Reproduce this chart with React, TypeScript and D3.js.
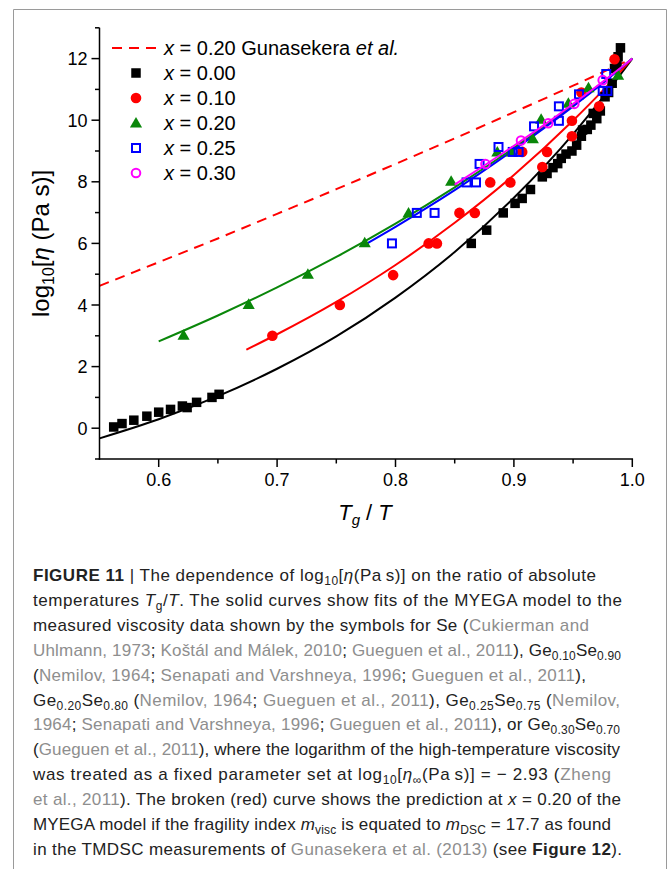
import React from 'react';
import * as d3 from 'd3';

// ---------- data ----------
const SE_X = [0.562, 0.569, 0.579, 0.590, 0.600, 0.610, 0.620, 0.624, 0.632, 0.645, 0.651, 0.864, 0.877, 0.891, 0.901, 0.907, 0.914, 0.924, 0.928, 0.933, 0.937, 0.940, 0.944, 0.949, 0.953, 0.957, 0.958, 0.962, 0.965, 0.967, 0.970, 0.973, 0.977, 0.980, 0.983, 0.985, 0.987, 0.988, 0.990];
const SE_Y = [0.04, 0.15, 0.26, 0.39, 0.52, 0.61, 0.72, 0.67, 0.84, 1.00, 1.10, 6.00, 6.43, 6.99, 7.30, 7.46, 7.75, 8.16, 8.27, 8.46, 8.59, 8.76, 8.90, 9.00, 9.19, 9.48, 9.68, 9.70, 9.84, 10.22, 10.05, 10.30, 10.76, 10.90, 11.20, 11.68, 11.84, 12.06, 12.35];

const GE10_X = [0.696, 0.753, 0.798, 0.828, 0.835, 0.854, 0.867, 0.880, 0.897, 0.907, 0.924, 0.928, 0.949, 0.949, 0.957, 0.972, 0.985];
const GE10_Y = [3.00, 4.00, 4.97, 6.00, 6.00, 6.99, 6.99, 7.98, 7.98, 8.97, 8.48, 8.97, 9.48, 9.98, 10.90, 10.45, 11.98];

const GE20_X = [0.621, 0.676, 0.726, 0.774, 0.811, 0.847, 0.886, 0.898, 0.916, 0.923, 0.946, 0.963, 0.988];
const GE20_Y = [3.02, 4.02, 5.00, 6.02, 6.99, 8.02, 8.97, 8.97, 9.40, 10.03, 10.55, 11.05, 11.46];

const GE25_X = [0.797, 0.818, 0.833, 0.860, 0.868, 0.871, 0.887, 0.899, 0.904, 0.917, 0.938, 0.938, 0.955, 0.975, 0.979, 0.978];
const GE25_Y = [6.00, 6.99, 6.99, 7.98, 7.98, 8.58, 9.13, 8.97, 8.97, 9.80, 9.98, 10.45, 10.84, 10.95, 10.95, 11.50];

const GE30_X = [0.876, 0.906, 0.929, 0.951, 0.975];
const GE30_Y = [8.58, 9.34, 9.90, 10.53, 11.30];

// fitted curves
const FIT_SE_X = [0.55, 0.60, 0.65, 0.70, 0.75, 0.80, 0.85, 0.90, 0.95, 0.975, 1.0];
const FIT_SE_Y = [-0.33, 0.29, 1.04, 1.93, 2.98, 4.24, 5.72, 7.48, 9.55, 10.73, 12.0];

const FIT_GE10_X = [0.674, 0.70, 0.75, 0.80, 0.85, 0.90, 0.95, 0.975, 1.0];
const FIT_GE10_Y = [2.55, 3.05, 4.10, 5.30, 6.67, 8.22, 9.99, 10.96, 12.0];

const FIT_GE20_X = [0.60, 0.65, 0.70, 0.75, 0.80, 0.85, 0.90, 0.95, 0.975, 1.0];
const FIT_GE20_Y = [2.82, 3.66, 4.57, 5.56, 6.64, 7.82, 9.10, 10.49, 11.23, 12.0];

const FIT_GE25_X = [0.775, 0.80, 0.85, 0.90, 0.95, 0.975, 1.0];
const FIT_GE25_Y = [5.98, 6.54, 7.73, 9.04, 10.45, 11.20, 12.0];

const FIT_GE30_X = [0.85, 0.875, 0.90, 0.925, 0.95, 0.975, 1.0];
const FIT_GE30_Y = [7.91, 8.53, 9.17, 9.83, 10.53, 11.25, 12.0];

const PRED_X = [0.55, 0.60, 0.65, 0.70, 0.75, 0.80, 0.85, 0.90, 0.95, 1.0];
const PRED_Y = [4.62, 5.39, 6.16, 6.96, 7.76, 8.58, 9.41, 10.26, 11.12, 12.0];

const X_TICKS = [0.6, 0.7, 0.8, 0.9, 1.0];
const X_MINOR = [0.65, 0.75, 0.85, 0.95];
const Y_TICKS = [0, 2, 4, 6, 8, 10, 12];
const Y_MINOR = [-1, 1, 3, 5, 7, 9, 11, 13];

const LEGEND_LABELS = ['0.00', '0.10', '0.20', '0.25', '0.30'];

// caption: [text, flags]  flags: b bold, i italic, s subscript, g gray
type Seg = [string, string?];
const CAPTION: Seg[][] = [
  [['FIGURE 11', 'b'], [' | The dependence of log'], ['10', 's'], ['['], ['η', 'i'], ['(Pa\u2009s)] on the ratio of absolute']],
  [['temperatures '], ['T', 'i'], ['g', 's'], ['/'], ['T', 'i'], ['. The solid curves show fits of the MYEGA model to the']],
  [['measured viscosity data shown by the symbols for Se ('], ['Cukierman and', 'g']],
  [['Uhlmann, 1973', 'g'], ['; '], ['Koštál and Málek, 2010', 'g'], ['; '], ['Gueguen et al., 2011', 'g'], ['), Ge'], ['0.10', 's'], ['Se'], ['0.90', 's']],
  [['('], ['Nemilov, 1964', 'g'], ['; '], ['Senapati and Varshneya, 1996', 'g'], ['; '], ['Gueguen et al., 2011', 'g'], ['),']],
  [['Ge'], ['0.20', 's'], ['Se'], ['0.80', 's'], [' ('], ['Nemilov, 1964', 'g'], ['; '], ['Gueguen et al., 2011', 'g'], ['), Ge'], ['0.25', 's'], ['Se'], ['0.75', 's'], [' ('], ['Nemilov,', 'g']],
  [['1964', 'g'], ['; '], ['Senapati and Varshneya, 1996', 'g'], ['; '], ['Gueguen et al., 2011', 'g'], ['), or Ge'], ['0.30', 's'], ['Se'], ['0.70', 's']],
  [['('], ['Gueguen et al., 2011', 'g'], ['), where the logarithm of the high-temperature viscosity']],
  [['was treated as a fixed parameter set at log'], ['10', 's'], ['['], ['η', 'i'], ['∞', 's'], ['(Pa\u2009s)] = \u2212 2.93 ('], ['Zheng', 'g']],
  [['et al., 2011', 'g'], ['). The broken (red) curve shows the prediction at '], ['x', 'i'], [' = 0.20 of the']],
  [['MYEGA model if the fragility index '], ['m', 'i'], ['visc', 's'], [' is equated to '], ['m', 'i'], ['DSC', 's'], [' = 17.7 as found']],
  [['in the TMDSC measurements of '], ['Gunasekera et al. (2013)', 'g'], [' (see '], ['Figure 12', 'b'], [').']],
];
// right edge of each caption line in the reference
const CAPTION_RIGHT = [596, 622, 589, 621, 586, 620, 620, 620, 611, 621, 611, 622];

const zip = (a: number[], b: number[]): [number, number][] => a.map((v, i) => [v, b[i]]);

const RED = '#ff0000';
const GREEN = '#0a870a';
const BLUE = '#0000ff';
const MAGENTA = '#ff00ff';
const FONT = '"Liberation Sans", Arial, sans-serif';
const CAP_X = 33;

function CaptionLine({ segs, y, right }: { segs: Seg[]; y: number; right: number }) {
  let shifted = false;
  const out: React.ReactNode[] = [];
  segs.forEach(([t, f = ''], i) => {
    const sub = f.includes('s');
    let dy: number | undefined;
    if (sub && !shifted) { dy = 4; shifted = true; }
    else if (!sub && shifted) { dy = -4; shifted = false; }
    out.push(
      <tspan key={i} dy={dy}
        fontSize={sub ? 12 : undefined}
        fontWeight={f.includes('b') ? 'bold' : undefined}
        fontStyle={f.includes('i') ? 'italic' : undefined}
        fill={f.includes('g') ? '#8e8e8e' : undefined}>{t}</tspan>
    );
  });
  return (
    <text x={CAP_X} y={y} fontSize={17} fill="#222" fontFamily={FONT}
      textLength={right - CAP_X} lengthAdjust="spacing"
      style={{ whiteSpace: 'pre' }}>{out}</text>
  );
}

export default function App() {
  const x = d3.scaleLinear().domain([0.55, 1.0]).range([99.5, 632.3]);
  const y = d3.scaleLinear().domain([-1, 13]).range([459, 27.8]);
  const line = d3.line<[number, number]>().x(d => x(d[0])).y(d => y(d[1])).curve(d3.curveMonotoneX);
  const tri = d3.symbol().type(d3.symbolTriangle).size(64)();

  const x0 = x(0.55);
  const yBase = y(-1);

  const sq = (cx: number, cy: number, s: number, fill: string, stroke?: string, key?: any) => (
    <rect key={key} x={cx - s / 2} y={cy - s / 2} width={s} height={s}
      fill={stroke ? 'none' : fill} stroke={stroke} strokeWidth={stroke ? 2 : 0} />
  );

  const legendY = [73, 98, 123, 148, 173];
  const legendMarkers = [
    sq(136, legendY[0], 9.5, '#000'),
    <circle cx={136} cy={legendY[1]} r={5.3} fill={RED} />,
    <path d={tri!} transform={`translate(136,${legendY[2] + 1})`} fill={GREEN} />,
    sq(136, legendY[3], 8, 'none', BLUE),
    <circle cx={136} cy={legendY[4]} r={4.3} fill="none" stroke={MAGENTA} strokeWidth={2} />,
  ];

  return (
    <div style={{ position: 'absolute', left: 0, top: 0 }}>
      <svg width={669} height={869} style={{ display: 'block', background: '#fff' }}>
        {/* frame */}
        <path d="M13.5,869 V9.5 H666.5 V869" fill="none" stroke="#9a9a9a" strokeWidth={1} />

        {/* curves */}
        <path d={line(zip(PRED_X, PRED_Y))!} fill="none" stroke={RED} strokeWidth={2} strokeDasharray="10,7" />
        <path d={line(zip(FIT_SE_X, FIT_SE_Y))!} fill="none" stroke="#000" strokeWidth={2} />
        <path d={line(zip(FIT_GE10_X, FIT_GE10_Y))!} fill="none" stroke={RED} strokeWidth={2} />
        <path d={line(zip(FIT_GE20_X, FIT_GE20_Y))!} fill="none" stroke={GREEN} strokeWidth={2} />
        <path d={line(zip(FIT_GE25_X, FIT_GE25_Y))!} fill="none" stroke={BLUE} strokeWidth={2} />

        {/* points */}
        {SE_X.map((v, i) => sq(x(v), y(SE_Y[i]), 9.5, '#000', undefined, 'se' + i))}
        {GE10_X.map((v, i) => <circle key={'r' + i} cx={x(v)} cy={y(GE10_Y[i])} r={5.3} fill={RED} />)}
        {GE20_X.map((v, i) => <path key={'g' + i} d={tri!} transform={`translate(${x(v)},${y(GE20_Y[i]) + 1})`} fill={GREEN} />)}
        {GE25_X.map((v, i) => sq(x(v), y(GE25_Y[i]), 8, 'none', BLUE, 'b' + i))}
        <path d={line(zip(FIT_GE30_X, FIT_GE30_Y))!} fill="none" stroke={MAGENTA} strokeWidth={2} />
        {GE30_X.map((v, i) => <circle key={'m' + i} cx={x(v)} cy={y(GE30_Y[i])} r={4.3} fill="none" stroke={MAGENTA} strokeWidth={2} />)}

        {/* axes */}
        <g stroke="#000" strokeWidth={1.5} fill="none">
          <line x1={x0} x2={x0} y1={y(13)} y2={yBase + 0.75} />
          <line x1={x0 - 0.75} x2={x(1.0) + 0.75} y1={yBase} y2={yBase} />
          {X_TICKS.map(t => <line key={'xt' + t} x1={x(t)} x2={x(t)} y1={yBase} y2={yBase + 8} />)}
          {X_MINOR.map(t => <line key={'xm' + t} x1={x(t)} x2={x(t)} y1={yBase} y2={yBase + 4.5} />)}
          {Y_TICKS.map(t => <line key={'yt' + t} x1={x0} x2={x0 - 8} y1={y(t)} y2={y(t)} />)}
          {Y_MINOR.map(t => <line key={'ym' + t} x1={x0} x2={x0 - 4.5} y1={y(t)} y2={y(t)} />)}
        </g>
        <g fontFamily={FONT} fontSize={18} fill="#000">
          {X_TICKS.map(t => (
            <text key={'xl' + t} x={x(t)} y={yBase + 27} textAnchor="middle">{d3.format('.1f')(t)}</text>
          ))}
          {Y_TICKS.map(t => (
            <text key={'yl' + t} x={x0 - 12} y={y(t) + 6.5} textAnchor="end">{t}</text>
          ))}
        </g>

        {/* axis titles */}
        <text x={365} y={520} fontFamily={FONT} fontSize={22} textAnchor="middle" style={{ whiteSpace: 'pre' }}>
          <tspan fontStyle="italic">T</tspan>
          <tspan fontStyle="italic" fontSize={15} dy={5}>g</tspan>
          <tspan dy={-5}> / </tspan>
          <tspan fontStyle="italic">T</tspan>
        </text>
        <text transform={`translate(49,${y(6)}) rotate(-90)`} fontFamily={FONT} fontSize={24} textAnchor="middle">
          <tspan>log</tspan>
          <tspan fontSize={16} dy={5}>10</tspan>
          <tspan dy={-5}>[</tspan>
          <tspan fontStyle="italic">η</tspan>
          <tspan> (Pa s)]</tspan>
        </text>

        {/* legend */}
        <line x1={112} x2={160} y1={48} y2={48} stroke={RED} strokeWidth={2} strokeDasharray="10,7" />
        <g fontFamily={FONT} fontSize={20} fill="#000" style={{ whiteSpace: 'pre' }}>
          <text x={164} y={55}>
            <tspan fontStyle="italic">x</tspan>
            <tspan> = 0.20 Gunasekera </tspan>
            <tspan fontStyle="italic">et al.</tspan>
          </text>
          {LEGEND_LABELS.map((l, i) => (
            <text key={'lg' + i} x={164} y={legendY[i] + 7}>
              <tspan fontStyle="italic">x</tspan>
              <tspan> = {l}</tspan>
            </text>
          ))}
        </g>
        {legendMarkers.map((m, i) => <g key={'lm' + i}>{m}</g>)}

        {/* caption */}
        {CAPTION.map((segs, i) => (
          <CaptionLine key={'c' + i} segs={segs} y={581 + i * 24.9} right={CAPTION_RIGHT[i]} />
        ))}
      </svg>
    </div>
  );
}
